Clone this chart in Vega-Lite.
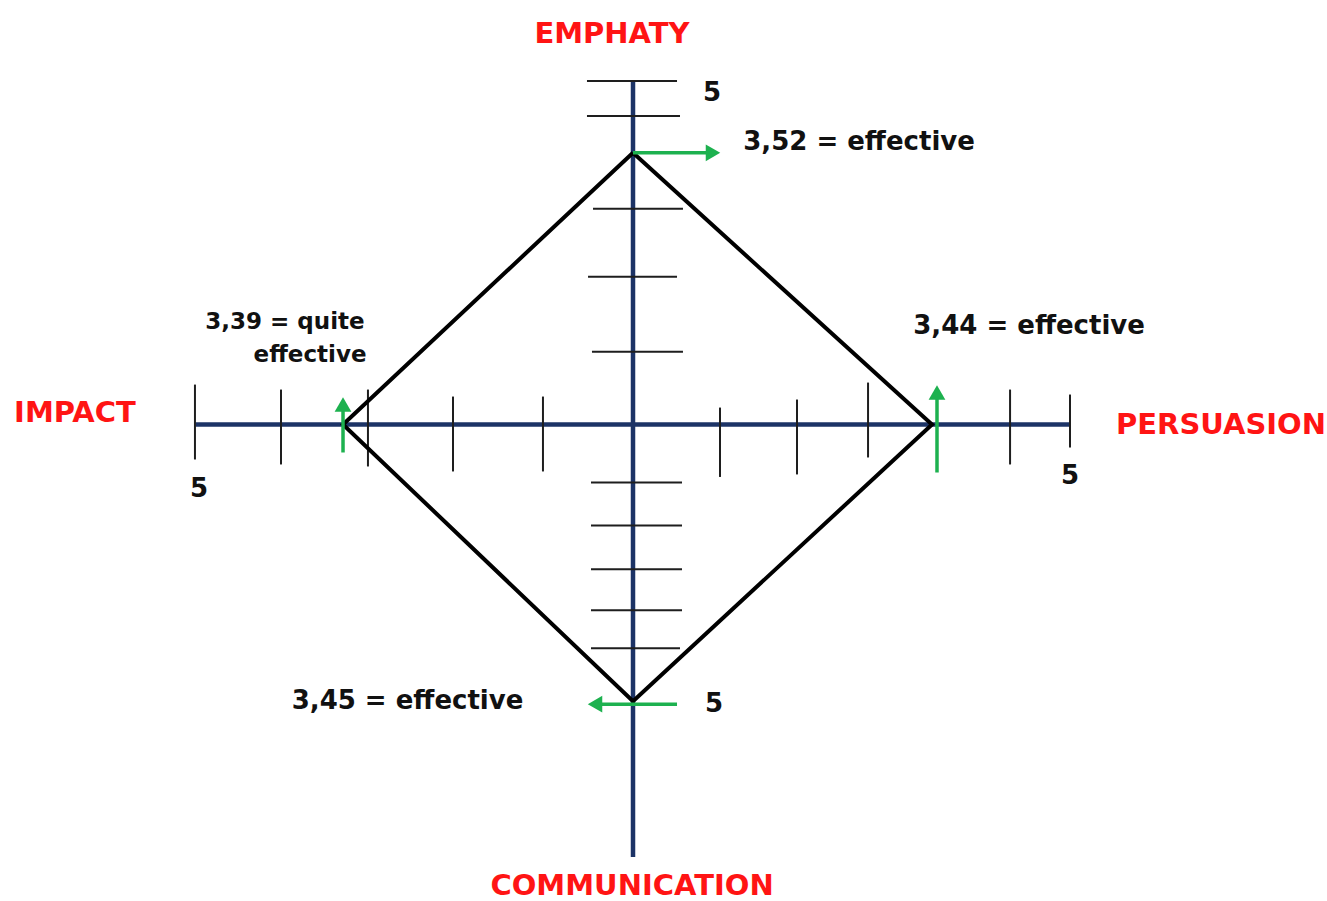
{
  "$schema": "https://vega.github.io/schema/vega-lite/v6.json",
  "width": 1327,
  "height": 901,
  "autosize": {"type": "fit", "contains": "padding"},
  "padding": 0,
  "background": "white",
  "config": {"view": {"stroke": null}},
  "datasets": {
    "axes": [
      {"axis": "horizontal", "x": -5.0, "y": 0, "x2": 5.0, "y2": 0},
      {"axis": "vertical", "x": 0, "y": 3.943, "x2": 0, "y2": -4.949}
    ],
    "ticks": [
      {"x": -5.006, "y": 0.457, "x2": -5.006, "y2": -0.4},
      {"x": -4.023, "y": 0.4, "x2": -4.023, "y2": -0.457},
      {"x": -3.029, "y": 0.4, "x2": -3.029, "y2": -0.48},
      {"x": -2.057, "y": 0.32, "x2": -2.057, "y2": -0.537},
      {"x": -1.029, "y": 0.32, "x2": -1.029, "y2": -0.537},
      {"x": 0.994, "y": 0.194, "x2": 0.994, "y2": -0.6},
      {"x": 1.874, "y": 0.286, "x2": 1.874, "y2": -0.571},
      {"x": 2.686, "y": 0.48, "x2": 2.686, "y2": -0.377},
      {"x": 4.309, "y": 0.4, "x2": 4.309, "y2": -0.457},
      {"x": 4.994, "y": 0.343, "x2": 4.994, "y2": -0.263},
      {"x": -0.526, "y": 3.931, "x2": 0.503, "y2": 3.931},
      {"x": -0.526, "y": 3.531, "x2": 0.537, "y2": 3.531},
      {"x": -0.457, "y": 2.469, "x2": 0.571, "y2": 2.469},
      {"x": -0.514, "y": 1.691, "x2": 0.503, "y2": 1.691},
      {"x": -0.469, "y": 0.834, "x2": 0.571, "y2": 0.834},
      {"x": -0.48, "y": -0.663, "x2": 0.56, "y2": -0.663},
      {"x": -0.48, "y": -1.154, "x2": 0.56, "y2": -1.154},
      {"x": -0.48, "y": -1.657, "x2": 0.56, "y2": -1.657},
      {"x": -0.48, "y": -2.126, "x2": 0.56, "y2": -2.126},
      {"x": -0.48, "y": -2.56, "x2": 0.537, "y2": -2.56}
    ],
    "diamond": [
      {"order": 0, "dimension": "EMPHATY", "x": 0, "y": 3.109},
      {"order": 1, "dimension": "PERSUASION", "x": 3.417, "y": 0},
      {"order": 2, "dimension": "COMMUNICATION", "x": 0, "y": -3.166},
      {"order": 3, "dimension": "IMPACT", "x": -3.314, "y": 0},
      {"order": 4, "dimension": "EMPHATY", "x": 0, "y": 3.109}
    ],
    "arrows": [
      {"dimension": "EMPHATY", "dir": "right", "x": 0, "y": 3.109, "x2": 0.914, "y2": 3.109},
      {"dimension": "PERSUASION", "dir": "up", "x": 3.474, "y": -0.549, "x2": 3.474, "y2": 0.366},
      {"dimension": "IMPACT", "dir": "up", "x": -3.314, "y": -0.32, "x2": -3.314, "y2": 0.229},
      {"dimension": "COMMUNICATION", "dir": "left", "x": 0.503, "y": -3.2, "x2": -0.434, "y2": -3.2}
    ],
    "labels": [
      {"kind": "name", "text": "EMPHATY", "x": -0.24, "y": 4.469},
      {"kind": "name", "text": "IMPACT", "x": -6.377, "y": 0.137},
      {"kind": "name", "text": "PERSUASION", "x": 6.72, "y": 0},
      {"kind": "name", "text": "COMMUNICATION", "x": -0.011, "y": -5.28},
      {"kind": "value", "text": "5", "x": 0.903, "y": 3.789},
      {"kind": "value", "text": "3,52 = effective", "x": 2.583, "y": 3.234},
      {"kind": "note", "text": "3,39 =  quite", "x": -3.977, "y": 1.177},
      {"kind": "note", "text": "effective", "x": -3.691, "y": 0.8},
      {"kind": "value", "text": "3,44 = effective", "x": 4.526, "y": 1.131},
      {"kind": "value", "text": "5", "x": -4.96, "y": -0.743},
      {"kind": "value", "text": "5", "x": 4.994, "y": -0.594},
      {"kind": "value", "text": "3,45 = effective", "x": -2.577, "y": -3.166},
      {"kind": "value", "text": "5", "x": 0.926, "y": -3.2}
    ]
  },
  "encoding": {
    "x": {"field": "x", "type": "quantitative", "axis": null, "scale": {"domain": [-7.234, 7.931], "nice": false, "zero": false}},
    "y": {"field": "y", "type": "quantitative", "axis": null, "scale": {"domain": [-5.44, 4.857], "nice": false, "zero": false}}
  },
  "layer": [
    {
      "data": {"name": "axes"},
      "mark": {"type": "rule", "color": "#1c3366", "strokeWidth": 4.5},
      "encoding": {"x2": {"field": "x2"}, "y2": {"field": "y2"}}
    },
    {
      "data": {"name": "ticks"},
      "mark": {"type": "rule", "color": "#1e1e1e", "strokeWidth": 2},
      "encoding": {"x2": {"field": "x2"}, "y2": {"field": "y2"}}
    },
    {
      "data": {"name": "diamond"},
      "mark": {"type": "line", "color": "#000000", "strokeWidth": 4, "strokeJoin": "miter"},
      "encoding": {"order": {"field": "order", "type": "quantitative"}}
    },
    {
      "data": {"name": "arrows"},
      "mark": {"type": "rule", "color": "#1db14f", "strokeWidth": 3.5},
      "encoding": {"x2": {"field": "x2"}, "y2": {"field": "y2"}}
    },
    {
      "data": {"name": "arrows"},
      "mark": {"type": "point", "filled": true, "color": "#1db14f", "opacity": 1, "size": 280},
      "encoding": {
        "x": {"field": "x2", "type": "quantitative"},
        "y": {"field": "y2", "type": "quantitative"},
        "shape": {"field": "dir", "type": "nominal", "legend": null, "scale": {"domain": ["up", "right", "left"], "range": ["triangle-up", "triangle-right", "triangle-left"]}}
      }
    },
    {
      "data": {"name": "labels"},
      "transform": [{"filter": "datum.kind === 'name'"}],
      "mark": {"type": "text", "font": "DejaVu Sans", "fontWeight": "bold", "fontSize": 29, "color": "#ff1414", "align": "center", "baseline": "middle"},
      "encoding": {"text": {"field": "text"}}
    },
    {
      "data": {"name": "labels"},
      "transform": [{"filter": "datum.kind === 'value'"}],
      "mark": {"type": "text", "font": "DejaVu Sans", "fontWeight": "bold", "fontSize": 26, "color": "#111111", "align": "center", "baseline": "middle"},
      "encoding": {"text": {"field": "text"}}
    },
    {
      "data": {"name": "labels"},
      "transform": [{"filter": "datum.kind === 'note'"}],
      "mark": {"type": "text", "font": "DejaVu Sans", "fontWeight": "bold", "fontSize": 23, "color": "#111111", "align": "center", "baseline": "middle"},
      "encoding": {"text": {"field": "text"}}
    }
  ]
}
